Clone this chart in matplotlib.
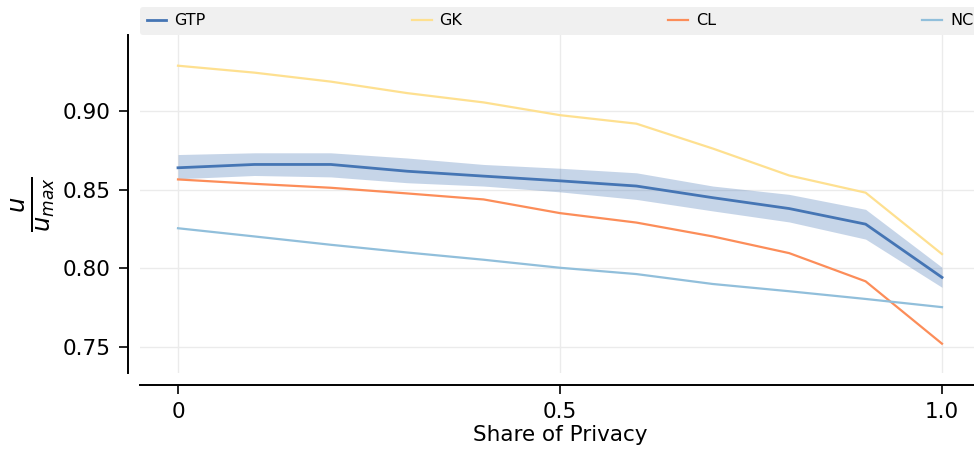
import numpy as np
import matplotlib
matplotlib.use("Agg")
import matplotlib.pyplot as plt

share = [0.0, 0.1, 0.2, 0.3, 0.4, 0.5, 0.6, 0.7, 0.8, 0.9, 1.0]
gtp = [0.8638, 0.8659, 0.8659, 0.8616, 0.8585, 0.8555, 0.8522, 0.8448, 0.8379, 0.8280, 0.7942]
gtp_upper = [0.8722, 0.8733, 0.8733, 0.8700, 0.8659, 0.8635, 0.8606, 0.8522, 0.8469, 0.8374, 0.8006]
gtp_lower = [0.8568, 0.8589, 0.8580, 0.8543, 0.8522, 0.8485, 0.8437, 0.8364, 0.8294, 0.8185, 0.7879]
gk = [0.9286, 0.9242, 0.9185, 0.9112, 0.9053, 0.8972, 0.8918, 0.8760, 0.8589, 0.8480, 0.8090]
cl = [0.8564, 0.8536, 0.8511, 0.8475, 0.8437, 0.8350, 0.8290, 0.8202, 0.8096, 0.7917, 0.7521]
nc = [0.8254, 0.8202, 0.8149, 0.8100, 0.8054, 0.8003, 0.7963, 0.7900, 0.7854, 0.7805, 0.7753]
xticks = [0, 0.5, 1.0]
xticklabels = ["0", "0.5", "1.0"]
yticks = [0.75, 0.80, 0.85, 0.90]

W, H = 974, 457
fig = plt.figure(figsize=(W / 100, H / 100), dpi=100)
left, right, bottom, top = 139.8, 980.2, 373.3, 35.0
ax = fig.add_axes([left / W, 1 - bottom / H, (right - left) / W, (bottom - top) / H])

c_gtp, c_gk, c_cl, c_nc = "#4575b4", "#fee090", "#fc8d59", "#91bfdb"
ax.fill_between(share, gtp_lower, gtp_upper, color=c_gtp, alpha=0.3, linewidth=0, zorder=2)
ax.plot(share, gtp, color=c_gtp, lw=2.0, label="GTP", zorder=5)
ax.plot(share, gk, color=c_gk, lw=1.6, label="GK", zorder=4)
ax.plot(share, cl, color=c_cl, lw=1.6, label="CL", zorder=4)
ax.plot(share, nc, color=c_nc, lw=1.6, label="NC", zorder=4)

ax.set_xlim(-0.05, 1.05)
ax.set_ylim(0.7333, 0.9481)
ax.set_xticks(xticks)
ax.set_xticklabels(xticklabels)
ax.set_yticks(yticks)
ax.set_yticklabels([f"{v:.2f}" for v in yticks])
ax.grid(True, color="#ebebeb", lw=1.0, zorder=0)
ax.set_axisbelow(True)

for s in ["top", "right"]:
    ax.spines[s].set_visible(False)
for s in ["left", "bottom"]:
    ax.spines[s].set_position(("outward", 8.3))
    ax.spines[s].set_linewidth(1.4)
ax.tick_params(axis="both", labelsize=15.5, length=6.5, width=1.2, pad=6)

ax.set_xlabel("Share of Privacy", fontsize=15.5, labelpad=2)
ax.set_ylabel(r"$\frac{u}{u_{max}}$", fontsize=25, labelpad=4)

leg = ax.legend(loc="lower left", bbox_to_anchor=(0, 1.0, 1, 0.1), mode="expand",
                ncol=4, borderaxespad=0, fontsize=11.5, handlelength=1.25,
                handletextpad=0.5, borderpad=0.42, frameon=True, fancybox=True)
leg.get_frame().set_facecolor("#f0f0f0")
leg.get_frame().set_edgecolor("none")
leg.get_frame().set_alpha(1)

fig.savefig("out.png", dpi=100)
